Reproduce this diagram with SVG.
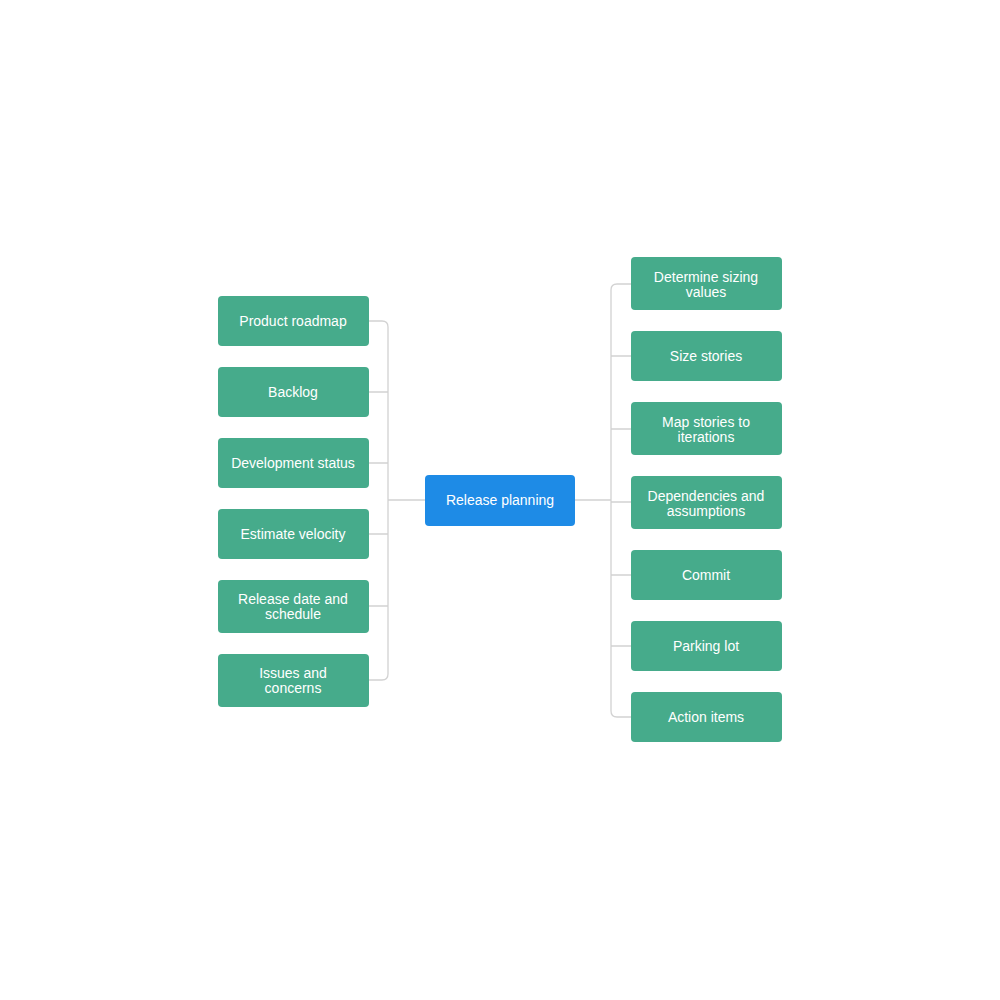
<svg xmlns="http://www.w3.org/2000/svg" width="1000" height="1000" viewBox="0 0 1000 1000">
<style>
.n{fill:#46ab8b}.c{fill:#1e8be6}
text{font-family:"Liberation Sans",Arial,sans-serif;font-size:14px;fill:#fff;text-anchor:middle}
.l{fill:none;stroke:#d2d2d2;stroke-width:1.3}
</style>
<rect width="1000" height="1000" fill="#fff"/>
<g id="connectors">
<path class="l" d="M369 321H382Q388 321 388 327V674Q388 680 382 680H369M369 392H388M369 463H388M369 534H388M369 606H388M388 500H425"/>
<path class="l" d="M631 284H617Q611 284 611 290V711Q611 717 617 717H631M631 356H611M631 429H611M631 502H611M631 575H611M631 646H611M575 500H611"/>
</g>
<g id="center"><rect class="c" x="425" y="475" width="150" height="51" rx="4"/><text x="500" y="505">Release planning</text></g>
<g id="l1"><rect class="n" x="218" y="296" width="151" height="50" rx="4"/><text x="293" y="326">Product roadmap</text></g>
<g id="l2"><rect class="n" x="218" y="367" width="151" height="50" rx="4"/><text x="293" y="397">Backlog</text></g>
<g id="l3"><rect class="n" x="218" y="438" width="151" height="50" rx="4"/><text x="293" y="468">Development status</text></g>
<g id="l4"><rect class="n" x="218" y="509" width="151" height="50" rx="4"/><text x="293" y="539">Estimate velocity</text></g>
<g id="l5"><rect class="n" x="218" y="580" width="151" height="53" rx="4"/><text x="293" y="604">Release date and</text><text x="293" y="619">schedule</text></g>
<g id="l6"><rect class="n" x="218" y="654" width="151" height="53" rx="4"/><text x="293" y="678">Issues and</text><text x="293" y="693">concerns</text></g>
<g id="r1"><rect class="n" x="631" y="257" width="151" height="53" rx="4"/><text x="706" y="282">Determine sizing</text><text x="706" y="297">values</text></g>
<g id="r2"><rect class="n" x="631" y="331" width="151" height="50" rx="4"/><text x="706" y="361">Size stories</text></g>
<g id="r3"><rect class="n" x="631" y="402" width="151" height="53" rx="4"/><text x="706" y="427">Map stories to</text><text x="706" y="442">iterations</text></g>
<g id="r4"><rect class="n" x="631" y="476" width="151" height="53" rx="4"/><text x="706" y="501">Dependencies and</text><text x="706" y="516">assumptions</text></g>
<g id="r5"><rect class="n" x="631" y="550" width="151" height="50" rx="4"/><text x="706" y="580">Commit</text></g>
<g id="r6"><rect class="n" x="631" y="621" width="151" height="50" rx="4"/><text x="706" y="651">Parking lot</text></g>
<g id="r7"><rect class="n" x="631" y="692" width="151" height="50" rx="4"/><text x="706" y="722">Action items</text></g>
</svg>
